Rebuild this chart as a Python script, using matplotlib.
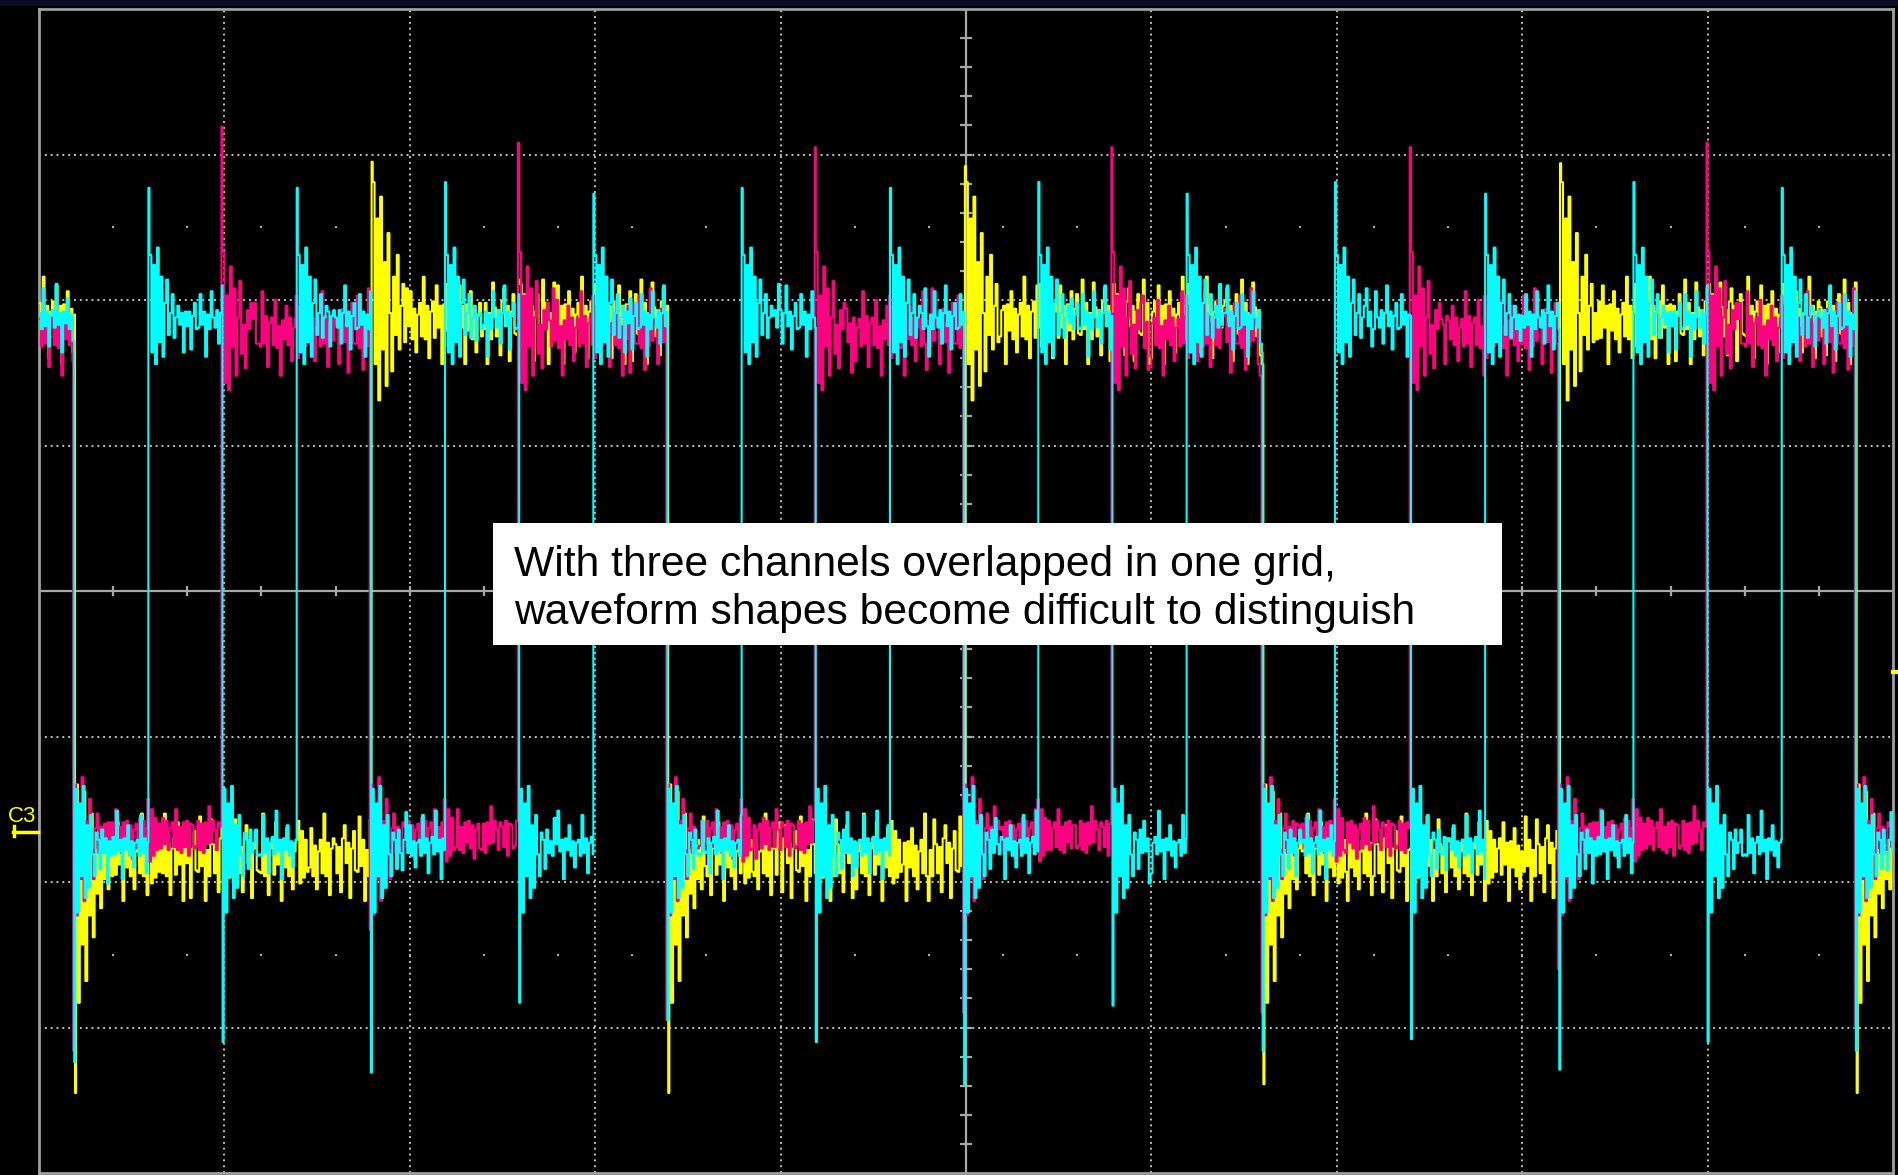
import matplotlib.pyplot as plt
from matplotlib.patches import Rectangle
from matplotlib.lines import Line2D

# switching edges, in divisions (screen is 10 div wide, 8 div tall)
edges = [0.19, 0.59, 0.99, 1.39, 1.79, 2.19, 2.59, 2.99, 3.39, 3.79,
         4.19, 4.59, 4.99, 5.39, 5.79, 6.19, 6.60, 6.99, 7.40, 7.80,
         8.20, 8.60, 9.00, 9.40, 9.80]

# on/off state of each segment between edges (26 segments)
cyan_state = [1, 0, 1, 0, 1, 0, 1, 0, 1, 0, 1, 0, 1, 0, 1, 0, 1, 0, 1, 0, 1, 0, 1, 0, 1, 0]
magenta_state = [1, 0, 0, 1, 1, 0, 0, 1, 1, 0, 0, 1, 1, 0, 0, 1, 1, 0, 0, 1, 1, 0, 0, 1, 1, 0]
yellow_state = [1, 0, 0, 0, 0, 1, 1, 1, 1, 0, 0, 0, 0, 1, 1, 1, 1, 0, 0, 0, 0, 1, 1, 1, 1, 0]

# (low, high) trace level in divisions
cyan_level = [-1.76, 1.86]
magenta_level = [-1.68, 1.78]
yellow_level = [-1.83, 1.86]

# overshoot peak at every transition of the channel, in order
cyan_spike = [-3.24, 2.77, -3.10, 2.77, -3.31, 2.81, -2.83, 2.73, -2.95, 2.77,
              -3.10, 2.77, -3.39, 2.81, -2.85, 2.73, -3.16, 2.81, -3.08, 2.73,
              -3.29, 2.81, -3.10, 2.77, -3.16]
magenta_spike = [-3.16, 3.19, -2.33, 3.08, -2.95, 3.05, -2.90, 3.05, -2.90, 3.05,
                 -2.60, 3.08, -3.00]
yellow_spike = [-3.45, 2.95, -3.45, 2.92, -3.39, 2.94, -3.45]

# ringing right after a rising / falling edge (offset from level)
cyan_ring_up = [0.45, -0.22, 0.38, -0.30, 0.50, -0.15, 0.30, -0.25,
                0.12, 0.28, -0.10, 0.05, 0.18, -0.12, 0.02, 0.10]
cyan_ring_dn = [0.40, -0.45, 0.30, -0.20, 0.42, -0.35, 0.15, -0.28,
                0.22, -0.05, -0.20, 0.10, 0.05, -0.15, 0.12, -0.04]
magenta_ring_up = [0.55, -0.35, 0.25, -0.40, 0.45, -0.10, 0.30, -0.30,
                   0.10, 0.35, -0.15, 0.05, -0.25, 0.15, 0.02, 0.20]
magenta_ring_dn = [0.35, -0.55, 0.20, -0.30, 0.40, -0.45, 0.10, -0.20,
                   0.25, -0.10, -0.30, 0.05, 0.15, -0.12, 0.06, -0.08]
yellow_ring_up = [0.95, -0.30, 0.70, -0.55, 0.85, -0.20, 0.40, -0.45, 0.60,
                  0.05, -0.35, 0.30, -0.10, 0.45, -0.20, 0.10, 0.25, -0.15]
yellow_ring_dn = [0.50, -1.00, 0.20, -0.60, 0.45, -0.85, 0.10, -0.40, 0.30,
                  -0.55, 0.05, -0.25, 0.20, -0.35, 0.08, -0.15, 0.12, -0.22]
crosstalk = [0.25, -0.18, 0.18, -0.14, 0.12, -0.10]

# steady noise (rows for the high level / low level)
cyan_ripple = [
    [0.05, -0.06, 0.22, -0.04, 0.06, -0.18, 0.03, 0.07, -0.05, 0.25,
     -0.03, 0.05, -0.22, 0.06, -0.02, 0.15, -0.06, 0.04, -0.14, 0.03],
    [-0.05, 0.18, -0.03, 0.06, -0.25, 0.04, -0.06, 0.20, 0.02, -0.05,
     0.07, -0.16, 0.05, 0.24, -0.04, 0.06, -0.20, 0.03, 0.12, -0.06],
]
magenta_ripple = [
    [0.09, -0.10, 0.28, -0.08, 0.11, -0.24, 0.06, 0.10, -0.09, 0.22,
     -0.11, 0.04, -0.30, 0.08, -0.05, 0.18, -0.09, 0.10, -0.20, 0.03],
    [-0.08, 0.25, -0.11, 0.07, -0.26, 0.08, -0.10, 0.30, -0.06, 0.09,
     0.05, -0.22, 0.11, 0.16, -0.07, 0.06, -0.28, 0.09, 0.20, -0.08],
]
magenta_ripple_low = [
    [0.08, -0.09, 0.12, -0.06, 0.10, -0.10, 0.05, 0.09, -0.08, 0.18,
     -0.10, 0.06, -0.12, 0.09, -0.05, 0.10, -0.09, 0.07, -0.16, 0.04],
    [-0.07, 0.10, -0.10, 0.08, -0.12, 0.09, -0.06, 0.20, -0.05, 0.10,
     0.04, -0.10, 0.09, 0.06, -0.08, 0.10, -0.14, 0.08, 0.07, -0.09],
]
yellow_ripple = [
    [0.12, -0.11, 0.30, -0.13, 0.10, -0.26, 0.06, 0.13, -0.12, 0.24,
     -0.05, 0.10, -0.30, 0.11, -0.07, 0.20, -0.13, 0.08, -0.22, 0.04],
    [-0.10, 0.28, -0.06, 0.12, -0.30, 0.05, -0.13, 0.26, 0.09, -0.11,
     0.07, -0.24, 0.13, 0.22, -0.04, 0.10, -0.28, 0.06, 0.18, -0.09],
]

note_lines = ["With three channels overlapped in one grid,",
              "waveform shapes become difficult to distinguish"]

dt = 0.01   # sample spacing, div
sw = 0.006  # width of the overshoot needle, div


def trace(state, level, spike, ring_up, ring_dn, ripple_hi, ripple_lo, shift):
    bounds = [0.0] + edges + [10.0]
    t, y = [], []
    n = 0
    for k, s in enumerate(state):
        a = bounds[k] + (shift if k > 0 else 0)
        b = bounds[k + 1] + (shift if k + 1 < len(state) else 0)
        head = []
        if k > 0 and s != state[k - 1]:
            t.append(a)
            y.append(spike[n])
            n += 1
            a += sw
            head = ring_up if s else ring_dn
        elif k > 0:
            head = crosstalk
        ripple = ripple_hi if s else ripple_lo
        i = 0
        while a + i * dt < b - 1e-9:
            if i < len(head):
                off = head[i]
            else:
                row = ripple[(k + i // 20) % len(ripple)]
                off = row[(i + 7 * k) % len(row)]
            t.append(a + i * dt)
            y.append(level[s] + off)
            i += 1
    t.append(10.0)
    y.append(y[-1])
    return t, y


fig = plt.figure(figsize=(18.99, 11.75), dpi=100, facecolor='black')
ax = fig.add_axes([39 / 1899, 2 / 1175, 1854 / 1899, 1164 / 1175])
ax.set_facecolor('black')
ax.set_xlim(0, 10)
ax.set_ylim(-4, 4)
ax.set_xticks([])
ax.set_yticks([])
for sp in ax.spines.values():
    sp.set_color('#a0a0a0')
    sp.set_linewidth(2)

# graticule
grid_c = '#c0c0c0'
for i in range(1, 10):
    if i != 5:
        ax.axvline(i, color=grid_c, ls=(0, (1, 2)), lw=1.4, zorder=1)
for j in range(-3, 4):
    if j != 0:
        ax.axhline(j, color=grid_c, ls=(0, (1, 2)), lw=1.4, zorder=1)
ax.axvline(5, color='#a8a8a8', lw=1.6, zorder=1)
ax.axhline(0, color='#a8a8a8', lw=1.6, zorder=1)
ax.hlines([-4 + 0.2 * i for i in range(1, 40)], 4.97, 5.03, color='#a8a8a8', lw=1.6, zorder=1)
ax.vlines([0.4 * i for i in range(1, 25)], -0.035, 0.035, color='#a8a8a8', lw=1.6, zorder=1)
dots_x = [0.4 * i for i in range(1, 25)]
ax.scatter(dots_x + dots_x, [2.5] * len(dots_x) + [-2.5] * len(dots_x),
           s=3, color='#b0b0b0', marker='s', linewidths=0, zorder=1)

# channels
t, y = trace(yellow_state, yellow_level, yellow_spike, yellow_ring_up, yellow_ring_dn,
             yellow_ripple, yellow_ripple, 0.004)
ax.plot(t, y, color='#ffff00', lw=1.5, drawstyle='steps-post', zorder=3)
t, y = trace(magenta_state, magenta_level, magenta_spike, magenta_ring_up, magenta_ring_dn,
             magenta_ripple, magenta_ripple_low, -0.006)
ax.plot(t, y, color='#ff0080', lw=1.5, drawstyle='steps-post', zorder=4)
t, y = trace(cyan_state, cyan_level, cyan_spike, cyan_ring_up, cyan_ring_dn,
             cyan_ripple, cyan_ripple, 0.0)
ax.plot(t, y, color='#00ffff', lw=1.5, drawstyle='steps-post', zorder=5)

# note box
ax.add_patch(Rectangle((2.448, -0.371), 7.891 - 2.448, 0.838, facecolor='white',
                       edgecolor='none', zorder=10))
ax.text(2.56, 0.103, note_lines[0], fontsize=30.7, family='Liberation Sans',
        color='black', va='baseline', ha='left', zorder=11)
ax.text(2.56, -0.225, note_lines[1], fontsize=30.7, family='Liberation Sans',
        color='black', va='baseline', ha='left', zorder=11)

# scope decorations outside the grid
fig.add_artist(Rectangle((0, 1 - 6 / 1175), 1, 6 / 1175, transform=fig.transFigure,
                         facecolor='#0c0c22', edgecolor='none'))
fig.text(8 / 1899, 1 - 822 / 1175, 'C3', color='#ffff00', fontsize=16,
         family='Liberation Sans', va='baseline')
fig.add_artist(Line2D([13 / 1899, 38 / 1899], [1 - 832 / 1175] * 2,
                      transform=fig.transFigure, color='#ffff00', lw=2.5))
fig.add_artist(Line2D([14.5 / 1899] * 2, [1 - 826 / 1175, 1 - 836 / 1175],
                      transform=fig.transFigure, color='#ffff00', lw=2.5))
fig.add_artist(Line2D([1893 / 1899, 1.0], [1 - 672 / 1175] * 2,
                      transform=fig.transFigure, color='#ffff00', lw=3))

fig.savefig('out.png', dpi=100, facecolor='black')
